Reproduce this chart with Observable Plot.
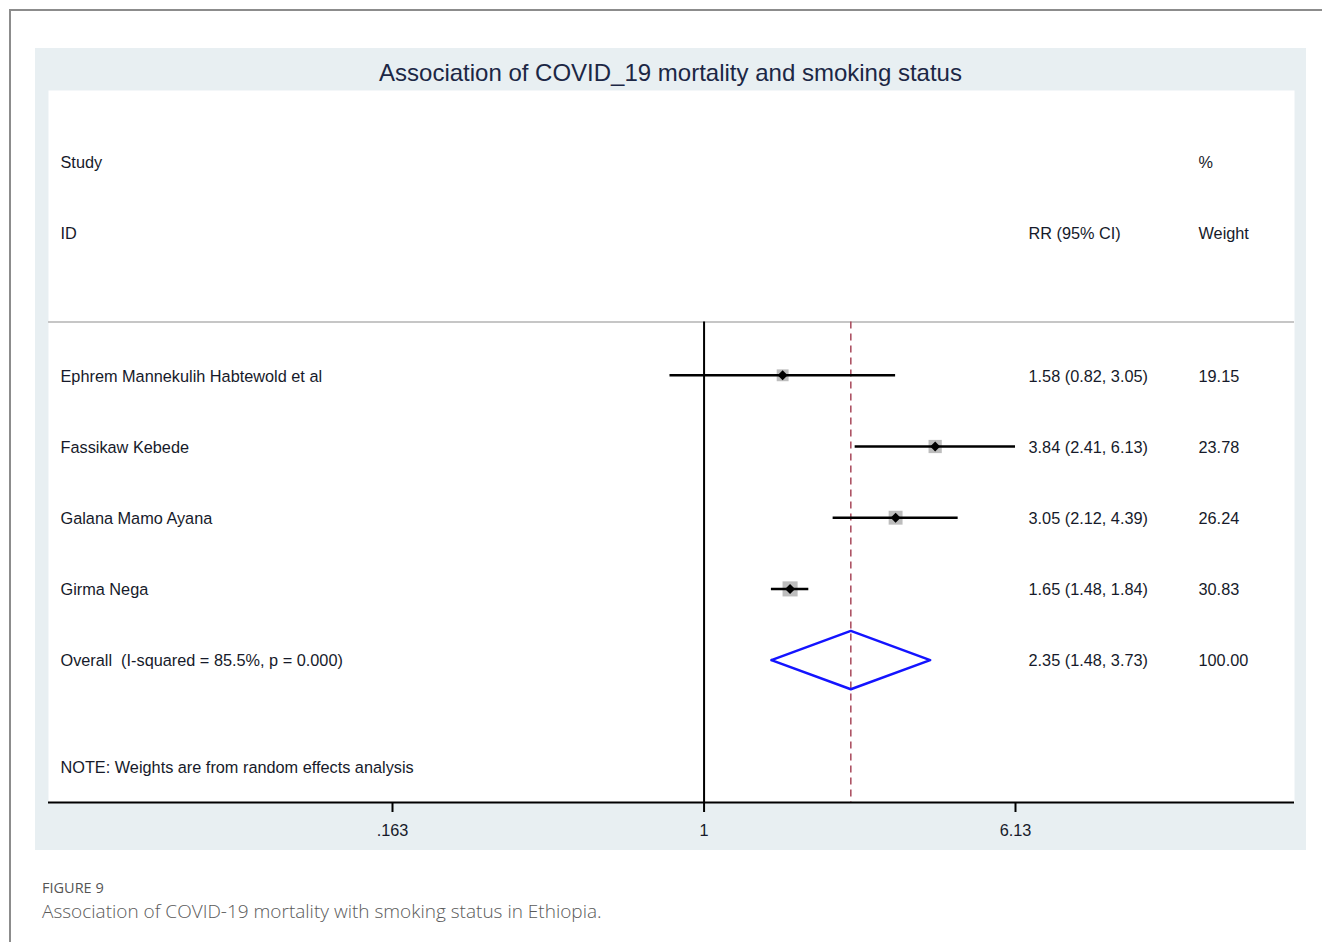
<!DOCTYPE html>
<html>
<head>
<meta charset="utf-8">
<script src="https://cdn.jsdelivr.net/npm/d3@7"></script>
<script src="https://cdn.jsdelivr.net/npm/@observablehq/plot@0.6"></script>
<style>
  html, body { margin: 0; padding: 0; background: #fff; width: 1322px; height: 942px; overflow: hidden; }
  #frame { position: absolute; left: 9px; top: 9px; width: 1400px; height: 1000px; border: 2px solid #8c8c8c; box-sizing: border-box; }
  #panel { position: absolute; left: 35px; top: 48px; width: 1271px; height: 802px; background: #e8eff2; }
  #title { position: absolute; left: 35px; top: 59px; width: 1271px; text-align: center; font-family: "Liberation Sans", Arial, sans-serif; font-size: 24px; color: #1c2745; }
  #chart { position: absolute; left: 48px; top: 90px; }
  #fig { position: absolute; left: 42px; top: 878px; font-family: "Open Sans", sans-serif; font-size: 14.5px; color: #555; font-weight: 500; }
  #cap { position: absolute; left: 42px; top: 898px; font-family: "Open Sans", sans-serif; font-size: 19px; color: #5a5a5a; font-weight: 300; }
</style>
</head>
<body>
<div id="frame"></div>
<div id="panel"></div>
<div id="title">Association of COVID_19 mortality and smoking status</div>
<div id="chart"></div>
<div id="fig">FIGURE 9</div>
<div id="cap">Association of COVID-19 mortality with smoking status in Ethiopia.</div>
<script>
// ---- data ----
const studies = ["Ephrem Mannekulih Habtewold et al", "Fassikaw Kebede", "Galana Mamo Ayana", "Girma Nega"];
const rr      = [1.58, 3.84, 3.05, 1.65];
const lower   = [0.82, 2.41, 2.12, 1.48];
const upper   = [3.05, 6.13, 4.39, 1.84];
const weights = [19.15, 23.78, 26.24, 30.83];
const rrLabels = ["1.58 (0.82, 3.05)", "3.84 (2.41, 6.13)", "3.05 (2.12, 4.39)", "1.65 (1.48, 1.84)"];
const weightLabels = ["19.15", "23.78", "26.24", "30.83"];

const overallLabel = "Overall  (I-squared = 85.5%, p = 0.000)";
const overallRR = 2.35, overallLower = 1.48, overallUpper = 3.73;
const overallRRLabel = "2.35 (1.48, 3.73)";
const overallWeightLabel = "100.00";

const noteText = "NOTE: Weights are from random effects analysis";
const xTicks = [0.163, 1, 6.13];
const xTickLabels = [".163", "1", "6.13"];

// row positions (row index, 0 = first study)
const headerRow1 = -3, headerRow2 = -2, overallRow = 4, noteRow = 5.5, separatorRow = -0.75;

const rows = studies.map((s, i) => ({
  i, study: s, rr: rr[i], lo: lower[i], hi: upper[i], w: weights[i],
  rrLabel: rrLabels[i], wLabel: weightLabels[i]
}));

const diamondHalf = 0.41;
const diamond = [
  {x: overallLower, y: overallRow},
  {x: overallRR, y: overallRow - diamondHalf},
  {x: overallUpper, y: overallRow},
  {x: overallRR, y: overallRow + diamondHalf},
  {x: overallLower, y: overallRow}
];

const leftText = [
  {y: headerRow1, t: "Study"},
  {y: headerRow2, t: "ID"},
  ...rows.map(d => ({y: d.i, t: d.study})),
  {y: overallRow, t: overallLabel},
  {y: noteRow, t: noteText}
];
const rrText = [
  {y: headerRow2, t: "RR (95% CI)"},
  ...rows.map(d => ({y: d.i, t: d.rrLabel})),
  {y: overallRow, t: overallRRLabel}
];
const wText = [
  {y: headerRow1, t: "%"},
  {y: headerRow2, t: "Weight"},
  ...rows.map(d => ({y: d.i, t: d.wLabel})),
  {y: overallRow, t: overallWeightLabel}
];

const textColor = "#161a2a";
const font = "Liberation Sans, Arial, sans-serif";
const fs = 16.3;

const plot = Plot.plot({
  width: 1246,
  height: 760,
  marginTop: 0,
  marginBottom: 48,
  marginLeft: 0,
  marginRight: 0,
  style: {background: "transparent", fontFamily: font, fontSize: fs + "px", color: textColor, overflow: "visible"},
  x: {type: "log", domain: [0.163, 6.13], range: [344, 967], axis: null},
  y: {type: "linear", domain: [-4, 6], reverse: true, axis: null},
  r: {type: "sqrt", domain: [0, 30.83], range: [0, 8.5]},
  marks: [
    Plot.frame({fill: "white", stroke: "none"}),
    Plot.ruleY([separatorRow], {stroke: "#c6c6c6", strokeWidth: 2}),
    Plot.ruleX([1], {y1: separatorRow, y2: 6, stroke: "#000", strokeWidth: 2}),
    Plot.ruleX([overallRR], {y1: separatorRow, y2: 6, stroke: "#a8485a", strokeWidth: 1.5, strokeDasharray: "7,5"}),
    Plot.dot(rows, {x: "rr", y: "i", r: "w", symbol: "square", fill: "#bdbdbd", stroke: "none"}),
    Plot.ruleY(rows, {y: "i", x1: "lo", x2: "hi", stroke: "#000", strokeWidth: 2.5}),
    Plot.dot(rows, {x: "rr", y: "i", r: 4.5, symbol: "diamond2", fill: "#000", stroke: "none"}),
    Plot.line(diamond, {x: "x", y: "y", stroke: "#1414ff", strokeWidth: 2.5, curve: "linear"}),
    Plot.text(leftText, {y: "y", text: "t", frameAnchor: "left", textAnchor: "start", dx: 12, dy: 1, fontSize: fs, fill: textColor}),
    Plot.text(rrText, {y: "y", text: "t", frameAnchor: "left", textAnchor: "start", dx: 980, dy: 1, fontSize: fs, fill: textColor}),
    Plot.text(wText, {y: "y", text: "t", frameAnchor: "left", textAnchor: "start", dx: 1150, dy: 1, fontSize: fs, fill: textColor}),
    Plot.ruleY([6], {stroke: "#000", strokeWidth: 2}),
    Plot.axisX({ticks: xTicks, tickFormat: (d) => xTickLabels[xTicks.indexOf(d)], tickSize: 10, tickPadding: 12, stroke: "#000", strokeWidth: 2, fill: textColor, fontSize: fs, anchor: "bottom"})
  ]
});
document.getElementById("chart").appendChild(plot);
</script>
</body>
</html>
